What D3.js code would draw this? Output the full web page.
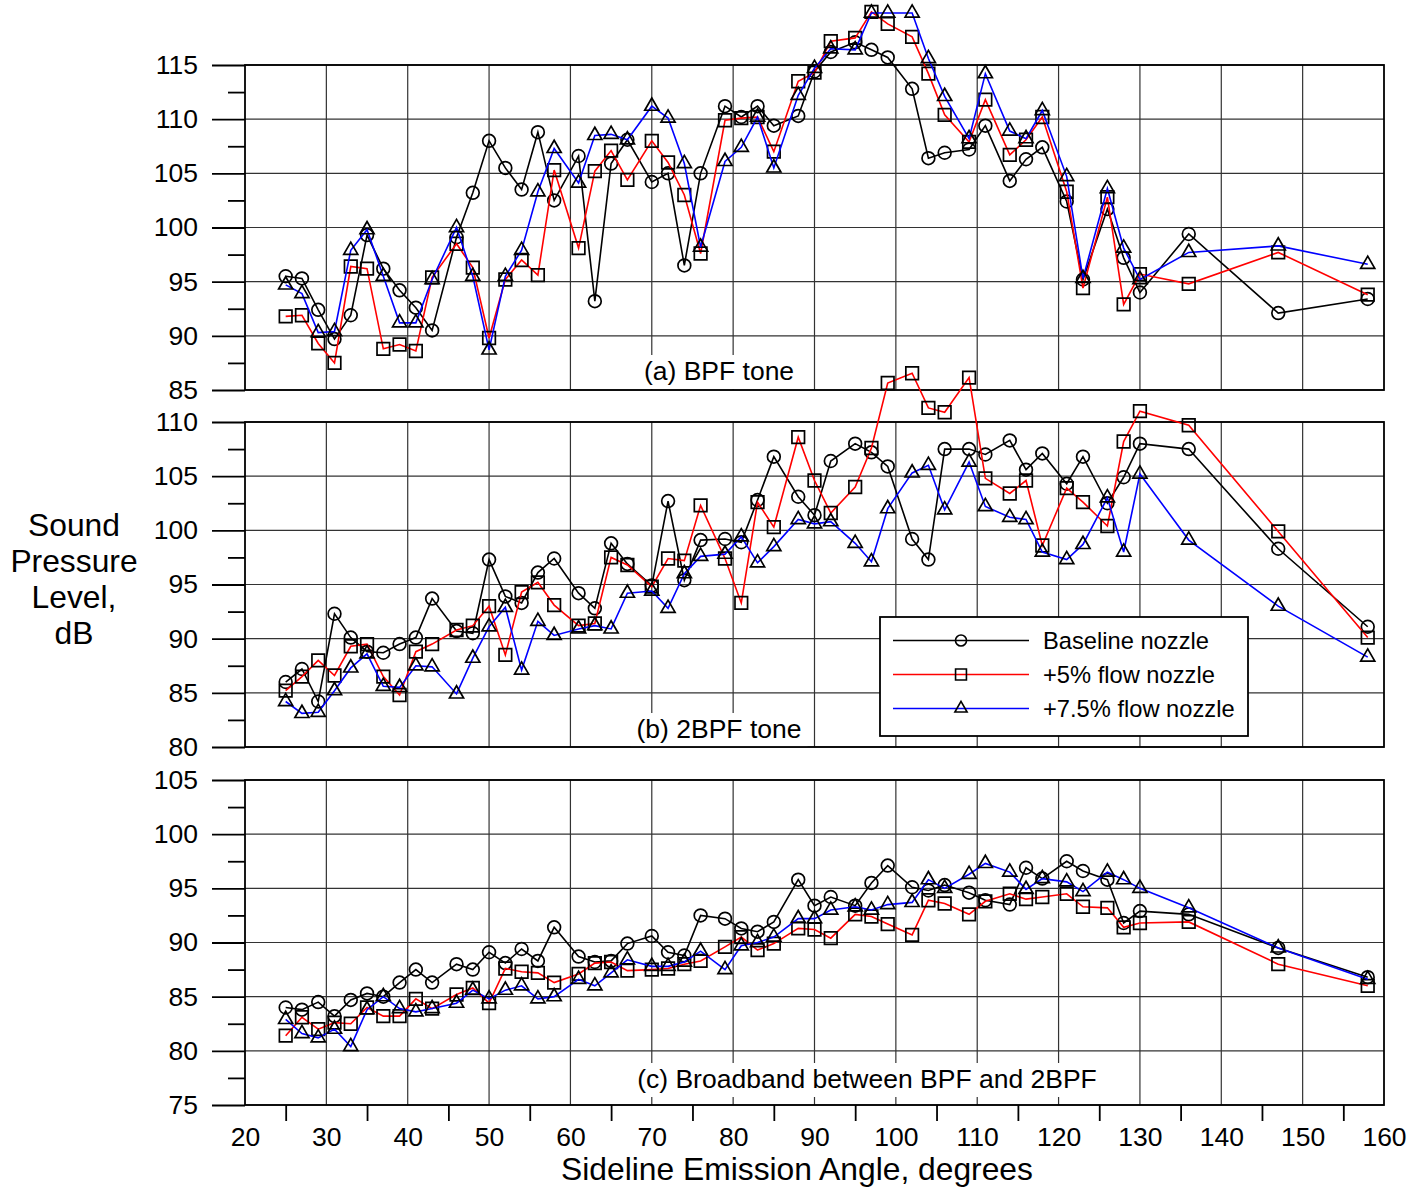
<!DOCTYPE html>
<meta charset="utf-8">
<style>

html, body {
  margin: 0;
  background: #fff;
}

svg {
  display: block;
  font-family: 'Liberation Sans', Arial, sans-serif;
}

.grid line {
  stroke: #333;
  stroke-width: 1.2px;
}

.frame {
  fill: none;
  stroke: #000;
  stroke-width: 1.8px;
}

.axis path {
  display: none;
}

.axis line {
  stroke: #000;
  stroke-width: 1.8px;
}

.axis text {
  font-size: 26.5px;
  fill: #000;
}

.series path.line {
  fill: none;
  stroke-width: 1.6px;
}

.series path.marker {
  fill: none;
  stroke: #000;
  stroke-width: 1.7px;
}

</style>
<svg width="1427" height="1190"></svg>
<script src="https://d3js.org/d3.v7.min.js"></script>
<script>

// sideline emission angles, degrees (same for every panel)
var angles = [25, 27, 29, 31, 33, 35, 37, 39, 41, 43, 46, 48, 50, 52, 54, 56, 58, 61, 63, 65, 67,
  70, 72, 74, 76, 79, 81, 83, 85, 88, 90, 92, 95, 97, 99, 102, 104, 106, 109, 111, 114, 116, 118,
  121, 123, 126, 128, 130, 136, 147, 158];

// (a) BPF tone, dB
var bpfBaseline = [95.5, 95.3, 92.4, 89.7, 91.9, 99.3, 96.2, 94.2, 92.6, 90.5, 99.1, 103.2, 108.0, 105.5,
  103.5, 108.8, 102.5, 106.6, 93.2, 105.9, 108.1, 104.2, 105.0, 96.5, 105.0, 111.2, 110.2, 111.2, 109.4,
  110.3, 114.4, 116.2, 117.1, 116.4, 115.7, 112.8, 106.4, 106.9, 107.2, 109.4, 104.3, 106.3, 107.4,
  102.4, 95.2, 101.7, 97.2, 94.0, 99.4, 92.1, 93.4];
var bpfFlow5 = [91.8, 91.9, 89.3, 87.5, 96.4, 96.2, 88.8, 89.2, 88.6, 95.4, 98.5, 96.3, 89.8, 95.2,
  97.0, 95.6, 105.3, 98.1, 105.2, 107.1, 104.4, 108.0, 106.0, 103.0, 97.6, 109.9, 110.1, 110.2, 107.0,
  113.5, 114.3, 117.2, 117.5, 119.9, 118.8, 117.6, 114.2, 110.4, 107.9, 111.8, 106.7, 108.1, 110.2,
  103.3, 94.4, 102.8, 92.9, 95.7, 94.8, 97.7, 93.8];
var bpfFlow75 = [94.7, 93.9, 90.3, 90.4, 97.9, 99.8, 95.5, 91.2, 91.2, 95.2, 100.0, 95.5, 88.7, 95.5,
  97.9, 103.3, 107.3, 104.1, 108.5, 108.6, 108.1, 111.2, 110.1, 105.9, 98.2, 106.1, 107.4, 110.2, 105.5,
  112.2, 114.7, 116.5, 116.4, 119.8, 119.8, 119.8, 115.6, 112.1, 108.2, 114.2, 108.9, 108.2, 110.8,
  104.7, 95.3, 103.6, 98.1, 95.2, 97.7, 98.3, 96.6];

// (b) 2BPF tone, dB
var twoBpfBaseline = [86.0, 87.2, 84.2, 92.3, 90.1, 88.8, 88.7, 89.5, 90.1, 93.7, 90.7, 90.5, 97.3, 93.9,
  93.3, 96.1, 97.4, 94.2, 92.8, 98.8, 96.9, 94.9, 102.7, 95.4, 99.1, 99.2, 98.9, 102.8, 106.8,
  103.1, 101.4, 106.4, 108.0, 107.2, 105.9, 99.2, 97.3, 107.5, 107.5, 107.0, 108.3, 105.6, 107.1,
  104.3, 106.8, 102.5, 104.9, 108.0, 107.5, 98.3, 91.1];
var twoBpfFlow5 = [85.2, 86.5, 88.0, 86.6, 89.3, 89.5, 86.5, 84.8, 88.8, 89.5, 90.8, 91.2, 93.0, 88.5,
  94.3, 95.2, 93.1, 91.2, 91.4, 97.5, 96.8, 94.8, 97.4, 97.2, 102.3, 97.4, 93.3, 102.6, 100.3,
  108.6, 104.6, 101.6, 104.0, 107.6, 113.6, 114.5, 111.3, 110.9, 114.1, 104.8, 103.4, 104.6, 98.6,
  103.9, 102.6, 100.4, 108.2, 111.0, 109.7, 99.9, 90.1];
var twoBpfFlow75 = [84.2, 83.1, 83.2, 85.2, 87.3, 88.6, 85.6, 85.5, 87.5, 87.4, 84.9, 88.2, 91.1, 92.9,
  87.1, 91.6, 90.3, 90.9, 91.2, 90.9, 94.2, 94.4, 92.8, 96.0, 97.6, 97.8, 99.4, 97.0, 98.5,
  101.0, 100.6, 100.8, 98.8, 97.1, 102.0, 105.3, 106.0, 101.9, 106.3, 102.2, 101.2, 101.0, 98.0,
  97.3, 98.7, 103.0, 98.0, 105.2, 99.1, 93.0, 88.3];

// (c) broadband between BPF and 2BPF, dB
var broadBaseline = [84.0, 83.8, 84.5, 83.2, 84.7, 85.3, 85.0, 86.3, 87.5, 86.3, 88.0, 87.5, 89.1, 88.1,
  89.4, 88.3, 91.4, 88.7, 88.2, 88.3, 89.9, 90.6, 89.1, 88.8, 92.5, 92.2, 91.3, 91.0, 91.9,
  95.8, 93.4, 94.2, 93.4, 95.5, 97.1, 95.1, 94.8, 95.3, 94.6, 93.9, 93.5, 96.9, 95.9,
  97.5, 96.6, 95.8, 91.8, 92.9, 92.6, 89.5, 86.8];
var broadFlow5 = [81.4, 83.1, 82.0, 82.6, 82.5, 84.0, 83.2, 83.2, 84.8, 83.9, 85.2, 85.8, 84.4, 87.6,
  87.3, 87.2, 86.3, 87.1, 88.1, 88.2, 87.4, 87.5, 87.6, 88.0, 88.3, 89.6, 90.5, 89.3, 89.9,
  91.3, 91.2, 90.4, 92.6, 92.4, 91.7, 90.7, 93.9, 93.6, 92.6, 93.8, 94.5, 94.0, 94.2,
  94.5, 93.3, 93.2, 91.4, 91.8, 91.9, 88.0, 86.0];
var broadFlow75 = [82.9, 81.6, 81.2, 82.0, 80.4, 83.8, 85.0, 83.9, 83.6, 83.9, 84.4, 85.6, 84.8, 85.6,
  86.0, 84.8, 85.0, 86.6, 86.0, 87.2, 88.4, 87.8, 87.8, 88.2, 89.2, 87.5, 89.7, 90.0, 90.5,
  92.2, 92.2, 93.0, 93.3, 93.0, 93.5, 93.7, 95.8, 95.0, 96.3, 97.3, 96.5, 94.9, 95.9,
  95.6, 94.7, 96.5, 95.8, 95.0, 93.2, 89.5, 86.6];

var seriesNames = ['Baseline nozzle', '+5% flow nozzle', '+7.5% flow nozzle'];
var seriesColors = ['#000000', '#ff0000', '#0000ff'];
var seriesSymbols = [d3.symbolCircle, d3.symbolSquare, d3.symbolTriangle];
var symbolSizes = [128, 158, 86];

var xTicks = [20, 30, 40, 50, 60, 70, 80, 90, 100, 110, 120, 130, 140, 150, 160];
var xMinorTicks = [25, 35, 45, 55, 65, 75, 85, 95, 105, 115, 125, 135, 145, 155];

var panels = [
  {label: '(a) BPF tone', domain: [85, 115], top: 65, bottom: 390, labelX: 719, labelGap: 10,
    values: [bpfBaseline, bpfFlow5, bpfFlow75]},
  {label: '(b) 2BPF tone', domain: [80, 110], top: 422, bottom: 747, labelX: 719, labelGap: 9,
    values: [twoBpfBaseline, twoBpfFlow5, twoBpfFlow75]},
  {label: '(c) Broadband between BPF and 2BPF', domain: [75, 105], top: 780, bottom: 1105, labelX: 867, labelGap: 17,
    values: [broadBaseline, broadFlow5, broadFlow75]}
];

var svg = d3.select('svg');

var x = d3.scaleLinear()
  .domain([20, 160])
  .range([245, 1384]);

panels.forEach(function (p, pi) {
  p.y = d3.scaleLinear()
    .domain(p.domain)
    .range([p.bottom, p.top]);

  var major = d3.range(p.domain[0], p.domain[1] + 0.1, 5);
  var minor = d3.range(p.domain[0] + 2.5, p.domain[1], 5);

  var g = svg.append('g').attr('class', 'panel');

  // grid
  var grid = g.append('g').attr('class', 'grid');
  grid.selectAll('line.h')
    .data(major)
    .enter().append('line')
    .attr('x1', x.range()[0])
    .attr('x2', x.range()[1])
    .attr('y1', function (d) { return p.y(d); })
    .attr('y2', function (d) { return p.y(d); });
  grid.selectAll('line.v')
    .data(xTicks.slice(1, -1))
    .enter().append('line')
    .attr('x1', function (d) { return x(d); })
    .attr('x2', function (d) { return x(d); })
    .attr('y1', p.top)
    .attr('y2', p.bottom);

  // left axis: major ticks with labels, minor ticks without
  g.append('g')
    .attr('class', 'axis')
    .attr('transform', 'translate(' + x.range()[0] + ',0)')
    .call(d3.axisLeft(p.y).tickValues(major).tickSize(33).tickPadding(14).tickFormat(d3.format('d')));
  g.append('g')
    .attr('class', 'axis')
    .attr('transform', 'translate(' + x.range()[0] + ',0)')
    .call(d3.axisLeft(p.y).tickValues(minor).tickSize(17).tickFormat(''));

  // panel caption on a white box
  var caption = g.append('text')
    .attr('class', 'caption')
    .attr('x', p.labelX)
    .attr('y', p.bottom - p.labelGap)
    .attr('text-anchor', 'middle')
    .style('font-size', '26.5px')
    .text(p.label);
  var bb = caption.node().getBBox();
  g.insert('rect', '.caption')
    .attr('x', bb.x - 6)
    .attr('y', bb.y - 1)
    .attr('width', bb.width + 12)
    .attr('height', bb.height + 4)
    .attr('fill', '#fff');

  g.append('rect')
    .attr('class', 'frame')
    .attr('x', x.range()[0])
    .attr('y', p.top)
    .attr('width', x.range()[1] - x.range()[0])
    .attr('height', p.bottom - p.top);

  if (pi === panels.length - 1) {
    g.append('g')
      .attr('class', 'axis')
      .attr('transform', 'translate(0,' + p.bottom + ')')
      .call(d3.axisBottom(x).tickValues(xMinorTicks).tickSize(16).tickFormat(''));
    g.append('g')
      .attr('class', 'axis')
      .attr('transform', 'translate(0,' + p.bottom + ')')
      .call(d3.axisBottom(x).tickValues(xTicks).tickSize(0).tickPadding(22).tickFormat(d3.format('d')));
  }
});

// data on top, not clipped (it spills above the frames like the original)
panels.forEach(function (p) {
  p.values.forEach(function (vals, si) {
    var pts = angles.map(function (a, i) { return [x(a), p.y(vals[i])]; });
    var g = svg.append('g').attr('class', 'series');
    g.append('path')
      .attr('class', 'line')
      .attr('stroke', seriesColors[si])
      .attr('d', d3.line()(pts));
    g.selectAll('path.marker')
      .data(pts)
      .enter().append('path')
      .attr('class', 'marker')
      .attr('transform', function (d) { return 'translate(' + d[0] + ',' + d[1] + ')'; })
      .attr('d', d3.symbol().type(seriesSymbols[si]).size(symbolSizes[si]));
  });
});

// legend
var legend = svg.append('g')
  .attr('transform', 'translate(880,617)');
legend.append('rect')
  .attr('width', 368)
  .attr('height', 119)
  .attr('fill', '#fff')
  .attr('stroke', '#000')
  .attr('stroke-width', 1.8);
var item = legend.selectAll('g.item')
  .data(seriesNames)
  .enter().append('g')
  .attr('class', 'item')
  .attr('transform', function (d, i) { return 'translate(0,' + (23.5 + i * 34) + ')'; });
item.append('line')
  .attr('x1', 13)
  .attr('x2', 149)
  .attr('stroke', function (d, i) { return seriesColors[i]; })
  .attr('stroke-width', 1.6);
item.append('path')
  .attr('transform', 'translate(81,0)')
  .attr('fill', 'none')
  .attr('stroke', '#000')
  .attr('stroke-width', 1.6)
  .attr('d', function (d, i) { return d3.symbol().type(seriesSymbols[i]).size(symbolSizes[i] * 0.75)(); });
item.append('text')
  .attr('x', 163)
  .attr('dy', '0.35em')
  .style('font-size', '23.7px')
  .text(function (d) { return d; });

// axis titles
svg.append('text')
  .attr('x', 797)
  .attr('y', 1180)
  .attr('text-anchor', 'middle')
  .style('font-size', '31.8px')
  .text('Sideline Emission Angle, degrees');

svg.append('text')
  .attr('text-anchor', 'middle')
  .style('font-size', '31.8px')
  .selectAll('tspan')
  .data(['Sound', 'Pressure', 'Level,', 'dB'])
  .enter().append('tspan')
  .attr('x', 74)
  .attr('y', function (d, i) { return 536 + i * 36; })
  .text(function (d) { return d; });

</script>
